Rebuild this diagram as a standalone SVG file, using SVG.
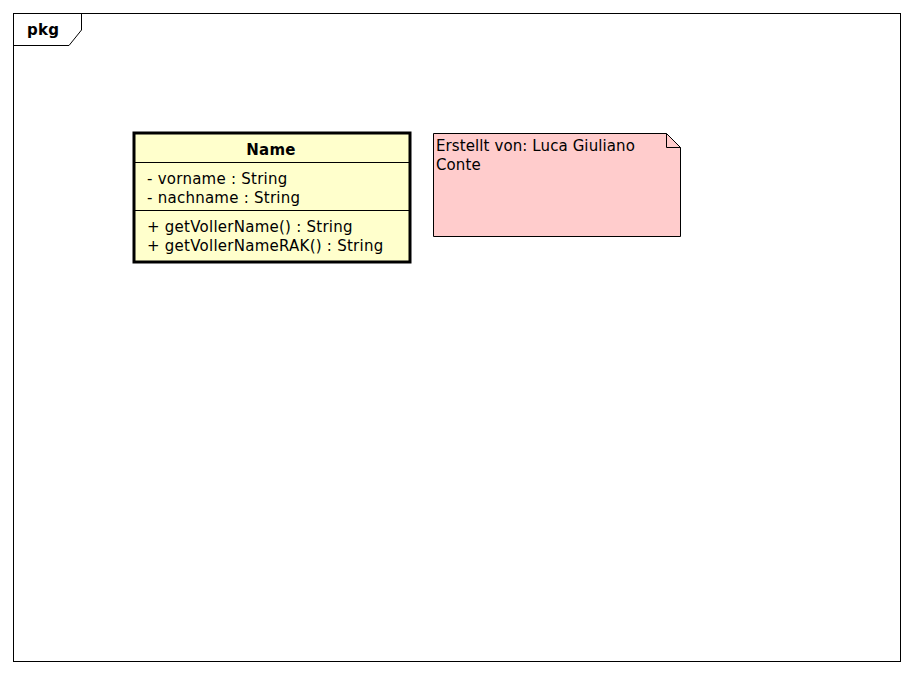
<svg xmlns="http://www.w3.org/2000/svg" width="913" height="674" viewBox="0 0 913 674">
<style>
text { font-family: "DejaVu Sans", sans-serif; font-size: 15px; fill: #000; }
.b { font-weight: bold; }
.m { letter-spacing: 0.25px; }
.n { letter-spacing: 0.1px; }
.ln { stroke: #000; stroke-width: 1; fill: none; }
</style>
<rect width="913" height="674" fill="#fff"/>
<g id="frame">
<rect x="13.5" y="13.5" width="887" height="648" fill="#fff" stroke="#000" stroke-width="1"/>
<path class="ln" d="M13.5,45.5 H69 L81.5,30 V13.5"/>
<text class="b" x="27" y="35" letter-spacing="0.3">pkg</text>
</g>
<g id="Name">
<rect x="134" y="133" width="276" height="129" fill="#ffffcc" stroke="#000" stroke-width="3"/>
<line class="ln" x1="134" y1="162.5" x2="410" y2="162.5"/>
<line class="ln" x1="134" y1="210.5" x2="410" y2="210.5"/>
<text class="b m" x="271" y="155" text-anchor="middle">Name</text>
<text class="m" x="147" y="184">- vorname : String</text>
<text class="m" x="147" y="203">- nachname : String</text>
<text class="m" x="147" y="232">+ getVollerName() : String</text>
<text class="m" x="147" y="251">+ getVollerNameRAK() : String</text>
</g>
<g id="note">
<path d="M433.5,133.5 H666.5 L680.5,147.5 V236.5 H433.5 Z" fill="#ffcccc" stroke="#000" stroke-width="1"/>
<path class="ln" d="M666.5,133.5 V147.5 H680.5"/>
<text class="n" x="436" y="151">Erstellt von: Luca Giuliano</text>
<text class="n" x="436" y="170">Conte</text>
</g>
<g id="connectors"></g>
</svg>
